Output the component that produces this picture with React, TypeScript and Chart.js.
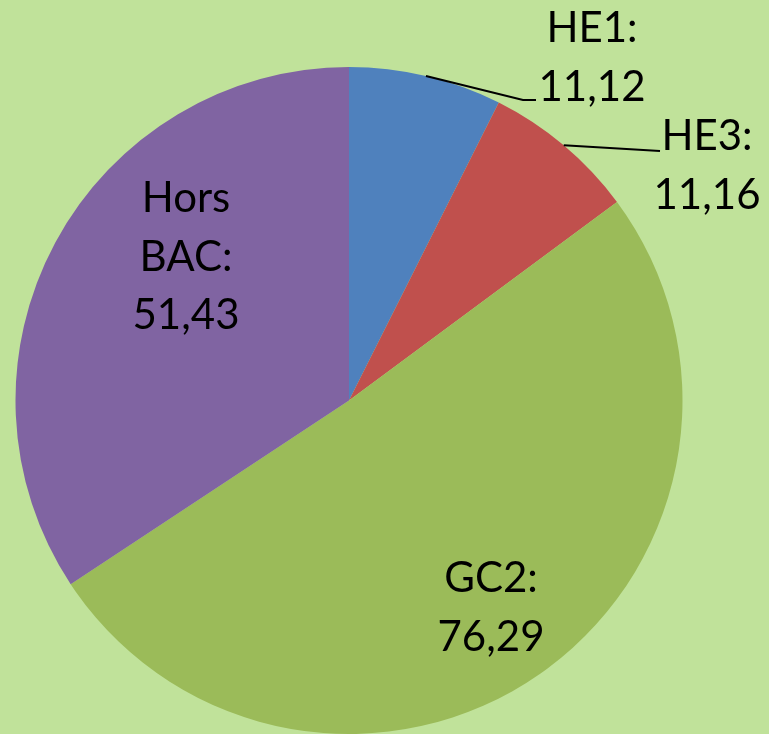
import React, { useEffect, useRef } from "react";
import { Chart, registerables } from "chart.js";

Chart.register(...registerables);

// ---- data ----
const categories = ["HE1", "HE3", "GC2", "Hors BAC"];
const values = [11.12, 11.16, 76.29, 51.43];
const sliceColors = ["#4F81BD", "#C0504D", "#9BBB59", "#8064A2"];
const wrapName = [false, false, false, true];
const hasLeader = [true, true, false, false];

// ---- label layout (text placement only) ----
const labelAnchors = [
  { x: 592, y: 42 },
  { x: 707, y: 150 },
  { x: 491, y: 592 },
  { x: 186, y: 212 },
];
const leaderEnds = [
  [{ x: 523, y: 100 }, { x: 536, y: 100 }],
  [{ x: 660, y: 151 }],
  [],
  [],
];
const BG = "#C0E29A";
const FONT = "42px Lato";
const LINE_H = 58.5;

const fmt = (v: number) => v.toFixed(2).replace(".", ",");

const labelPlugin = {
  id: "customLabels",
  beforeDraw(chart: any) {
    const { ctx, width, height } = chart;
    ctx.save();
    ctx.fillStyle = BG;
    ctx.fillRect(0, 0, width, height);
    ctx.restore();
  },
  afterDraw(chart: any) {
    const { ctx } = chart;
    const meta = chart.getDatasetMeta(0);
    ctx.save();
    meta.data.forEach((arc: any, i: number) => {
      const { x, y, startAngle, endAngle, outerRadius } = arc.getProps(
        ["x", "y", "startAngle", "endAngle", "outerRadius"],
        true
      );
      if (hasLeader[i]) {
        const mid = (startAngle + endAngle) / 2;
        const sx = x + Math.cos(mid) * outerRadius;
        const sy = y + Math.sin(mid) * outerRadius;
        ctx.beginPath();
        ctx.moveTo(sx, sy);
        leaderEnds[i].forEach((p) => ctx.lineTo(p.x, p.y));
        ctx.strokeStyle = "#000000";
        ctx.lineWidth = 2;
        ctx.stroke();
      }
      const name = categories[i];
      const lines = wrapName[i]
        ? [...name.split(" ").slice(0, -1), name.split(" ").slice(-1)[0] + ":"]
        : [name + ":"];
      lines.push(fmt(values[i]));
      ctx.font = FONT;
      ctx.fillStyle = "#000000";
      ctx.textAlign = "center";
      ctx.textBaseline = "alphabetic";
      const a = labelAnchors[i];
      lines.forEach((t, k) => ctx.fillText(t, a.x, a.y + k * LINE_H));
    });
    ctx.restore();
  },
};

export default function App() {
  const ref = useRef<HTMLCanvasElement | null>(null);
  useEffect(() => {
    document.body.style.margin = "0";
    const canvas = ref.current;
    if (!canvas) return;
    const chart = new Chart(canvas, {
      type: "pie",
      data: {
        labels: categories,
        datasets: [
          {
            data: values,
            backgroundColor: sliceColors,
            borderWidth: 0,
          },
        ],
      },
      options: {
        responsive: false,
        animation: false,
        devicePixelRatio: 1,
        layout: { padding: { left: 15, right: 86, top: 67, bottom: 0 } },
        plugins: {
          legend: { display: false },
          tooltip: { enabled: false },
        },
      },
      plugins: [labelPlugin],
    });
    return () => chart.destroy();
  }, []);
  return (
    <div style={{ width: 769, height: 734, background: BG }}>
      <canvas ref={ref} width={769} height={734} style={{ display: "block" }} />
    </div>
  );
}
